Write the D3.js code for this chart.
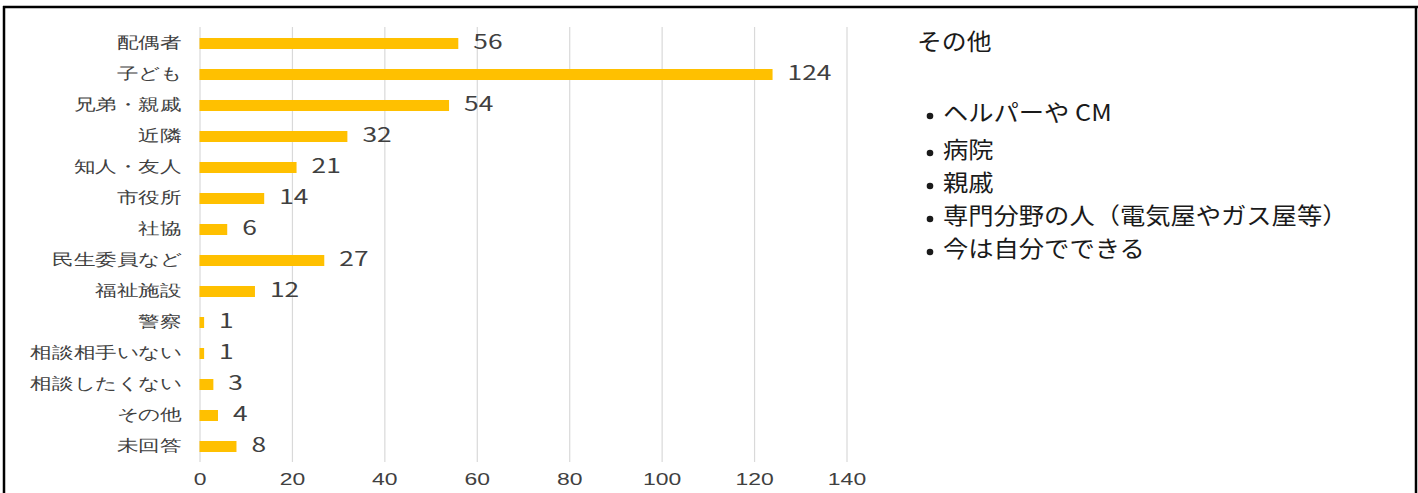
<!DOCTYPE html>
<html lang="ja">
<head>
<meta charset="utf-8">
<script src="https://cdn.jsdelivr.net/npm/d3@7"></script>
<style>
  html, body { margin: 0; padding: 0; background: #fff; }
  svg { display: block; font-family: "Noto Sans CJK JP", "Noto Sans", sans-serif; }
</style>
</head>
<body>
<svg id="chart" width="1418" height="493"></svg>
<script>
// 相談相手（複数回答）
const categories = ["配偶者", "子ども", "兄弟・親戚", "近隣", "知人・友人", "市役所", "社協",
  "民生委員など", "福祉施設", "警察", "相談相手いない", "相談したくない", "その他", "未回答"];
const counts = [56, 124, 54, 32, 21, 14, 6, 27, 12, 1, 1, 3, 4, 8];
const xTicks = [0, 20, 40, 60, 80, 100, 120, 140];

// 「その他」の内訳
const otherTitle = "その他";
const otherItems = ["ヘルパーや CM", "病院", "親戚", "専門分野の人（電気屋やガス屋等）", "今は自分でできる"];

const svg = d3.select("#chart");
const SX = 1.35;          // wide lettering used throughout the chart area
const barColor = "#FFC000";
const textColor = "#404040";

const plot = { left: 199.5, right: 846.5, top: 28, bottom: 462 };

const x = d3.scaleLinear().domain([0, 140]).range([plot.left, plot.right]);
const y = d3.scaleBand().domain(categories).range([plot.top, plot.bottom])
  .paddingInner(0.645).paddingOuter(0.3225);

// frame
const frame = svg.append("g").attr("stroke", "#000").attr("stroke-width", 2.5).attr("fill", "none");
frame.append("line").attr("x1", 3).attr("x2", 1418).attr("y1", 7).attr("y2", 7);
frame.append("line").attr("x1", 4).attr("x2", 4).attr("y1", 6).attr("y2", 493);
frame.append("line").attr("x1", 1416).attr("x2", 1416).attr("y1", 6).attr("y2", 493);

// vertical gridlines + bottom tick labels
const xAxis = svg.append("g")
  .attr("transform", `translate(0,${plot.bottom})`)
  .call(d3.axisBottom(x).tickValues(xTicks).tickSize(-(plot.bottom - plot.top + 1)).tickPadding(0));
xAxis.select(".domain").remove();
xAxis.selectAll(".tick line").attr("stroke", "#d9d9d9").attr("stroke-width", 1.2);
xAxis.selectAll(".tick text")
  .attr("y", 0).attr("dy", null)
  .attr("transform", `translate(0,19) scale(${SX},1)`)
  .attr("font-size", 17).attr("fill", textColor)
  .attr("dominant-baseline", "middle");

// category labels
const yAxis = svg.append("g")
  .attr("transform", `translate(${plot.left},0)`)
  .call(d3.axisLeft(y).tickSize(0).tickPadding(0));
yAxis.select(".domain").remove();
yAxis.selectAll(".tick text")
  .attr("x", 0).attr("dy", null)
  .attr("transform", `translate(-18,0) scale(${SX},1)`)
  .attr("font-size", 16).attr("fill", textColor)
  .attr("dominant-baseline", "middle");

// bars
svg.append("g").selectAll("rect")
  .data(categories)
  .join("rect")
  .attr("x", x(0))
  .attr("y", (d) => y(d))
  .attr("width", (d, i) => x(counts[i]) - x(0))
  .attr("height", y.bandwidth())
  .attr("fill", barColor);

// value labels
svg.append("g").selectAll("text")
  .data(categories)
  .join("text")
  .attr("transform", (d, i) => `translate(${x(counts[i]) + 15},${y(d) + y.bandwidth() / 2 + 0.5}) scale(${SX},1)`)
  .attr("dominant-baseline", "middle")
  .attr("font-size", 19.5)
  .attr("fill", textColor)
  .text((d, i) => counts[i]);

// breakdown of "その他"
const note = svg.append("g").attr("fill", "#1a1a1a");
note.append("text")
  .attr("transform", "translate(917,44) scale(1.08,1)")
  .attr("dominant-baseline", "middle")
  .attr("font-size", 23)
  .text(otherTitle);

// first bullet sits a little apart from the rest of the list
const lineY = (i) => (i === 0 ? 115 : 152 + (i - 1) * 33);
const items = note.selectAll("g.item")
  .data(otherItems)
  .join("g")
  .attr("class", "item")
  .attr("transform", (d, i) => `translate(0,${lineY(i)})`);
items.append("circle").attr("cx", 930).attr("cy", 1).attr("r", 3.3);
items.append("text")
  .attr("transform", "translate(943,0) scale(1.1,1)")
  .attr("dominant-baseline", "middle")
  .attr("font-size", 23)
  .text((d) => d);
</script>
</body>
</html>
